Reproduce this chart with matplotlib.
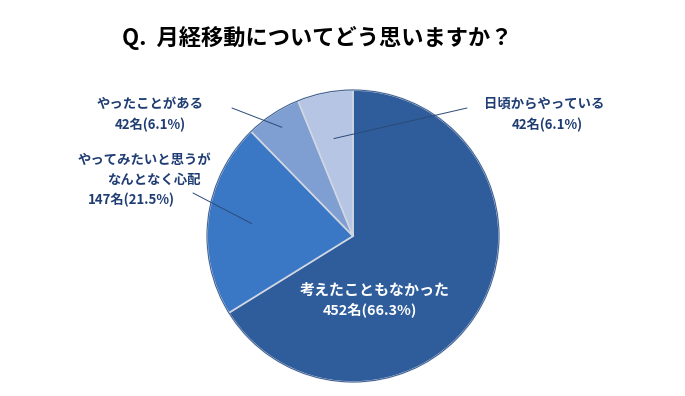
import numpy as np
import matplotlib.pyplot as plt

plt.rcParams['font.family'] = ['Noto Sans CJK JP', 'DejaVu Sans']

# data (clockwise from 12 o'clock)
categories = ['考えたこともなかった', 'やってみたいと思うが\nなんとなく心配', 'やったことがある', '日頃からやっている']
counts = [452, 147, 42, 42]
pct_labels = ['452名(66.3%)', '147名(21.5%)', '42名(6.1%)', '42名(6.1%)']
colors = ['#2F5D9C', '#3A78C6', '#7F9FD2', '#B5C5E3']

title = 'Q.  月経移動についてどう思いますか？'

W, H = 685, 396
cx, cy, R = 353, 236, 146   # pie centre / radius in pixels

fig = plt.figure(figsize=(W / 100, H / 100), dpi=100)
ax = fig.add_axes([0, 0, 1, 1])

wedges, _ = ax.pie(counts, colors=colors, startangle=90, counterclock=False,
                   wedgeprops=dict(edgecolor='#D0D6E2', linewidth=1.2))
for w in wedges:
    w.set_zorder(2)
# thin dark rim
ax.add_patch(plt.Circle((0, 0), 1.0, fill=False, ec='#2A4F86', lw=0.6, zorder=3))

ax.set_xlim(-cx / R, (W - cx) / R)
ax.set_ylim(-(H - cy) / R, cy / R)
ax.set_aspect('auto')
ax.axis('off')

navy = '#1F3D73'


def fxy(px, py):
    return px / W, 1 - py / H


def mid_point(w, r):
    a = np.deg2rad((w.theta1 + w.theta2) / 2)
    return r * np.cos(a), r * np.sin(a)


fig.text(*fxy(317, 38), title, ha='center', va='center', fontsize=16,
         fontweight='bold', color='black')

# main slice label inside
fig.text(*fxy(375, 290), categories[0], ha='center', va='center', fontsize=10.8,
         fontweight='bold', color='white')
fig.text(*fxy(370, 310), pct_labels[0], ha='center', va='center', fontsize=10.3,
         fontweight='bold', color='white')

# outside labels
fig.text(*fxy(144, 160), 'やってみたいと思うが', ha='center', va='center', fontsize=9.6,
         fontweight='bold', color=navy)
fig.text(*fxy(154, 180), 'なんとなく心配', ha='center', va='center', fontsize=9.6,
         fontweight='bold', color=navy)
fig.text(*fxy(131, 200), pct_labels[1], ha='center', va='center', fontsize=9.5,
         fontweight='bold', color=navy)

fig.text(*fxy(150, 104), categories[2], ha='center', va='center', fontsize=9.6,
         fontweight='bold', color=navy)
fig.text(*fxy(150, 125), pct_labels[2], ha='center', va='center', fontsize=9.5,
         fontweight='bold', color=navy)

fig.text(*fxy(544, 104), categories[3], ha='center', va='center', fontsize=9.6,
         fontweight='bold', color=navy)
fig.text(*fxy(547, 125), pct_labels[3], ha='center', va='center', fontsize=9.5,
         fontweight='bold', color=navy)

# leader lines
leaders = [(1, 0.70, (193, 193)), (2, 0.89, (232, 108)), (3, 0.68, (467, 108))]
for i, r, (px, py) in leaders:
    ax.annotate('', xy=mid_point(wedges[i], r), xycoords='data',
                xytext=fxy(px, py), textcoords='figure fraction',
                arrowprops=dict(arrowstyle='-', color='#2B4A78', lw=0.7,
                                shrinkA=0, shrinkB=0), zorder=4)

fig.savefig('out.png', dpi=100, facecolor='white')
